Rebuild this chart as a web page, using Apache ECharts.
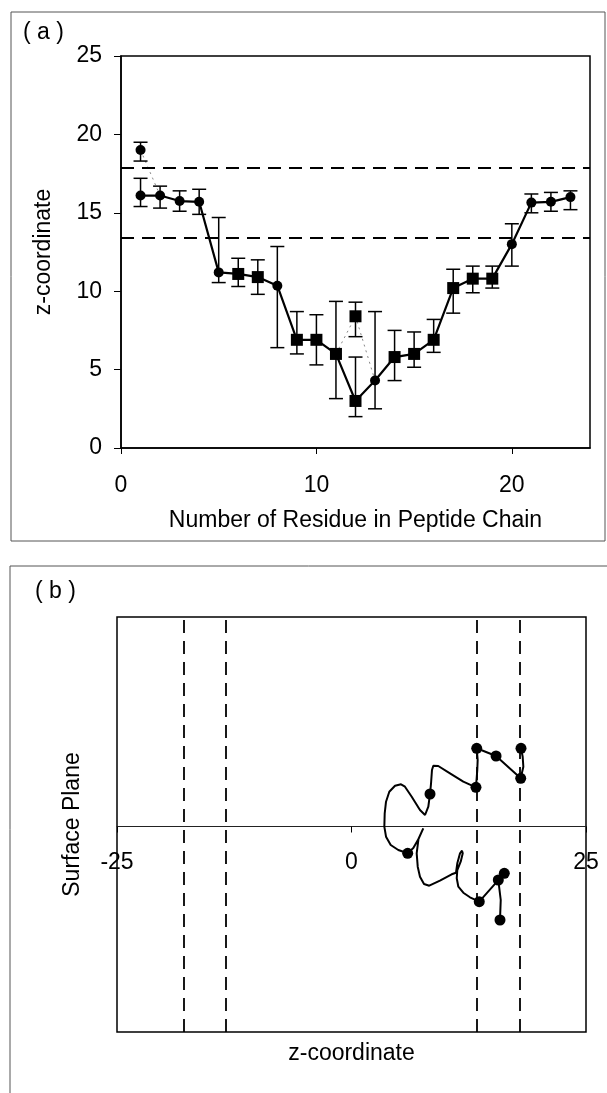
<!DOCTYPE html>
<html>
<head>
<meta charset="utf-8">
<script src="https://cdn.jsdelivr.net/npm/echarts@6/dist/echarts.min.js"></script>
<style>
html,body{margin:0;padding:0;background:#fff;}
#chart{width:607px;height:1093px;}
</style>
</head>
<body>
<div id="chart"></div>
<script>
// ---- Panel (a) data ----
const residues = [1,2,3,4,5,6,7,8,9,10,11,12,13,14,15,16,17,18,19,20,21,22,23];
const zMean = [16.1,16.1,15.75,15.7,11.2,11.1,10.9,10.35,6.9,6.9,6.0,3.0,4.3,5.8,6.0,6.9,10.2,10.8,10.8,13.0,15.65,15.7,16.0];
const zLow  = [15.4,15.3,15.1,14.9,10.55,10.3,9.8,6.4,6.0,5.3,3.15,2.0,2.5,4.3,5.15,6.1,8.6,9.9,10.2,11.6,15.0,15.1,15.2];
const zHigh = [17.2,16.7,16.4,16.5,14.7,12.1,12.0,12.85,8.7,8.5,9.35,5.8,8.7,7.5,7.4,8.2,11.4,11.6,11.6,14.3,16.2,16.3,16.4];
const squareResidues = [6,7,9,10,11,12,14,15,16,17,18,19];
// alternative positions
const altResidues = [1,12];
const altMean = [19.0,8.4];
const altLow  = [18.3,7.1];
const altHigh = [19.5,9.3];
// membrane boundaries (z)
const boundaries = [13.4,17.9];
const xTicks = [0,10,20];
const yTicks = [0,5,10,15,20,25];

// ---- Panel (b) data ----
const traceZ = [18.07,18.25,18.32,18.04,15.41,13.35,13.45,13.41,13.27,11.92,10.50,9.25,8.72,8.58,8.48,8.37,8.19,7.84,7.30,6.42,5.70,5.28,4.64,4.03,3.68,3.54,3.50,3.68,4.18,4.99,5.99,6.59,7.14,7.65,7.14,6.95,7.06,7.30,7.73,8.29,9.43,10.68,11.14,11.28,11.57,11.78,11.86,11.64,11.28,11.22,11.39,11.92,12.63,13.62,16.29,15.65,15.91,15.83];
const traceS = [7.82,6.98,5.98,4.82,7.05,7.82,6.65,5.65,3.92,4.48,5.32,6.05,6.08,5.65,4.32,3.25,1.98,1.15,1.65,2.98,3.98,4.22,4.08,3.48,2.48,1.32,-0.02,-1.02,-1.85,-2.35,-2.68,-2.15,-1.25,-0.18,-1.25,-2.68,-4.02,-5.02,-5.75,-5.92,-5.42,-4.78,-4.62,-3.68,-2.68,-2.42,-2.68,-3.52,-4.35,-5.18,-6.02,-6.62,-7.08,-7.52,-4.68,-5.35,-7.35,-9.35];
const dotZ = [13.35,15.41,18.07,18.04,13.27,8.37,5.99,13.62,15.65,16.29,15.83];
const dotS = [7.82,7.05,7.82,4.82,3.92,3.25,-2.68,-7.52,-5.35,-4.68,-9.35];
const bLines = [-17.9,-13.4,13.4,17.9];
const bTicks = [-25,0,25];

const FONT = 'Liberation Sans, Arial, sans-serif';
const FS = 23;

const mainData = residues.map((r,i)=>{
  const sq = squareResidues.includes(r);
  return {value:[r,zMean[i]], symbol: sq?'rect':'circle', symbolSize: sq?12:10};
});
const altData = altResidues.map((r,i)=>{
  const sq = squareResidues.includes(r);
  return {value:[r,altMean[i]], symbol: sq?'rect':'circle', symbolSize: sq?12:10};
});
function mainAt(r){ const i = residues.indexOf(r); return i<0?null:[r,zMean[i]]; }
const altLinks = altResidues.map((r,i)=>[mainAt(r-1),[r,altMean[i]],mainAt(r+1)].filter(p=>p));

function errRender(params, api){
  const x = api.value(0);
  const lo = api.coord([x, api.value(1)]);
  const hi = api.coord([x, api.value(2)]);
  const w = 7;
  const st = {stroke:'#000', lineWidth:1.5};
  return {type:'group', children:[
    {type:'line', shape:{x1:lo[0],y1:lo[1],x2:hi[0],y2:hi[1]}, style:st},
    {type:'line', shape:{x1:lo[0]-w,y1:lo[1],x2:lo[0]+w,y2:lo[1]}, style:st},
    {type:'line', shape:{x1:hi[0]-w,y1:hi[1],x2:hi[0]+w,y2:hi[1]}, style:st}
  ]};
}

const chart = echarts.init(document.getElementById('chart'), null, {renderer:'canvas'});
const option = {
  animation:false,
  backgroundColor:'#fff',
  textStyle:{fontFamily:FONT},
  grid:[
    {left:121, top:56, width:469, height:392, show:true, borderColor:'#000', borderWidth:1.5, backgroundColor:'transparent', outerBoundsMode:'none', containLabel:false},
    {left:117, top:617, width:469, height:415, show:true, borderColor:'#000', borderWidth:1.5, backgroundColor:'transparent', outerBoundsMode:'none', containLabel:false},
    {left:117, top:617, width:469, height:209.5, show:false, outerBoundsMode:'none', containLabel:false}
  ],
  xAxis:[
    {gridIndex:0, type:'value', min:0, max:24, interval:10,
     name:'Number of Residue in Peptide Chain', nameLocation:'middle', nameGap:61,
     nameTextStyle:{fontSize:FS, color:'#000', fontFamily:FONT},
     axisLine:{lineStyle:{color:'#000', width:1.5}},
     axisTick:{length:6, lineStyle:{color:'#000', width:1}},
     axisLabel:{fontSize:FS, color:'#000', margin:26, fontFamily:FONT, showMaxLabel:false,
       formatter:v=> xTicks.includes(v)? String(v) : ''},
     splitLine:{show:false}},
    {gridIndex:1, type:'value', min:-25, max:25,
     axisLine:{show:false}, axisTick:{show:false}, axisLabel:{show:false}, splitLine:{show:false}},
    {gridIndex:2, type:'value', min:-25, max:25, interval:25,
     name:'z-coordinate', nameLocation:'middle', nameGap:216,
     nameTextStyle:{fontSize:FS, color:'#000', fontFamily:FONT},
     axisLine:{onZero:false, lineStyle:{color:'#222', width:1}},
     axisTick:{length:6, lineStyle:{color:'#000', width:1}},
     axisLabel:{fontSize:FS, color:'#000', margin:25, fontFamily:FONT,
       formatter:v=> bTicks.includes(v)? String(v) : ''},
     splitLine:{show:false}}
  ],
  yAxis:[
    {gridIndex:0, type:'value', min:0, max:25, interval:5,
     name:'z-coordinate', nameLocation:'middle', nameGap:66, nameRotate:90,
     nameTextStyle:{fontSize:FS, color:'#000', fontFamily:FONT},
     axisLine:{lineStyle:{color:'#000', width:1.5}},
     axisTick:{length:7, lineStyle:{color:'#000', width:1}},
     axisLabel:{fontSize:FS, color:'#000', margin:19, fontFamily:FONT,
       formatter:v=> yTicks.includes(v)? String(v) : ''},
     splitLine:{show:false}},
    {gridIndex:1, type:'value', min:-20.55, max:20.95,
     name:'Surface Plane', nameLocation:'middle', nameGap:33, nameRotate:90,
     nameTextStyle:{fontSize:FS, color:'#000', fontFamily:FONT},
     axisLine:{show:false}, axisTick:{show:false}, axisLabel:{show:false},
     splitLine:{show:false}},
    {gridIndex:2, type:'value', min:0, max:1, show:false}
  ],
  graphic:[
    {type:'rect', shape:{x:11, y:12, width:594, height:529}, style:{fill:'none', stroke:'#555', lineWidth:1}, silent:true},
    {type:'polyline', shape:{points:[[10,1093],[10,566],[607,566]]}, style:{fill:'none', stroke:'#555', lineWidth:1}, silent:true},
    {type:'text', left:23, top:21, style:{text:'( a )', font:FS+'px '+FONT, fill:'#000'}, silent:true},
    {type:'text', left:35, top:580, style:{text:'( b )', font:FS+'px '+FONT, fill:'#000'}, silent:true}
  ],
  series:[
    {type:'custom', xAxisIndex:0, yAxisIndex:0, renderItem:errRender,
     data: residues.map((r,i)=>[r,zLow[i],zHigh[i]]), z:2, silent:true},
    {type:'custom', xAxisIndex:0, yAxisIndex:0, renderItem:errRender,
     data: altResidues.map((r,i)=>[r,altLow[i],altHigh[i]]), z:2, silent:true},
    ...altLinks.map(pts=>({type:'line', xAxisIndex:0, yAxisIndex:0, data:pts, showSymbol:false, symbol:'none',
      lineStyle:{color:'#888', width:1, type:[2,4]}, z:1, silent:true})),
    {type:'scatter', xAxisIndex:0, yAxisIndex:0, data:altData, itemStyle:{color:'#000', opacity:1}, z:4, silent:true},
    {type:'line', xAxisIndex:0, yAxisIndex:0, data:mainData, lineStyle:{color:'#000', width:2.2},
     itemStyle:{color:'#000', opacity:1}, showSymbol:true, z:3, silent:true,
     markLine:{symbol:'none', silent:true, label:{show:false},
       lineStyle:{color:'#000', width:2, type:[13,8]},
       data: boundaries.map(v=>({yAxis:v}))}},
    {type:'line', xAxisIndex:1, yAxisIndex:1, data: traceZ.map((z,i)=>[z,traceS[i]]),
     showSymbol:false, symbol:'none', lineStyle:{color:'#000', width:2}, z:3, silent:true,
     markLine:{symbol:'none', silent:true, label:{show:false},
       lineStyle:{color:'#000', width:1.8, type:[13,8]},
       data: bLines.map(v=>({xAxis:v}))}},
    {type:'scatter', xAxisIndex:1, yAxisIndex:1, data: dotZ.map((z,i)=>[z,dotS[i]]),
     symbol:'circle', symbolSize:11, itemStyle:{color:'#000', opacity:1}, z:4, silent:true}
  ]
};
chart.setOption(option);
</script>
</body>
</html>
